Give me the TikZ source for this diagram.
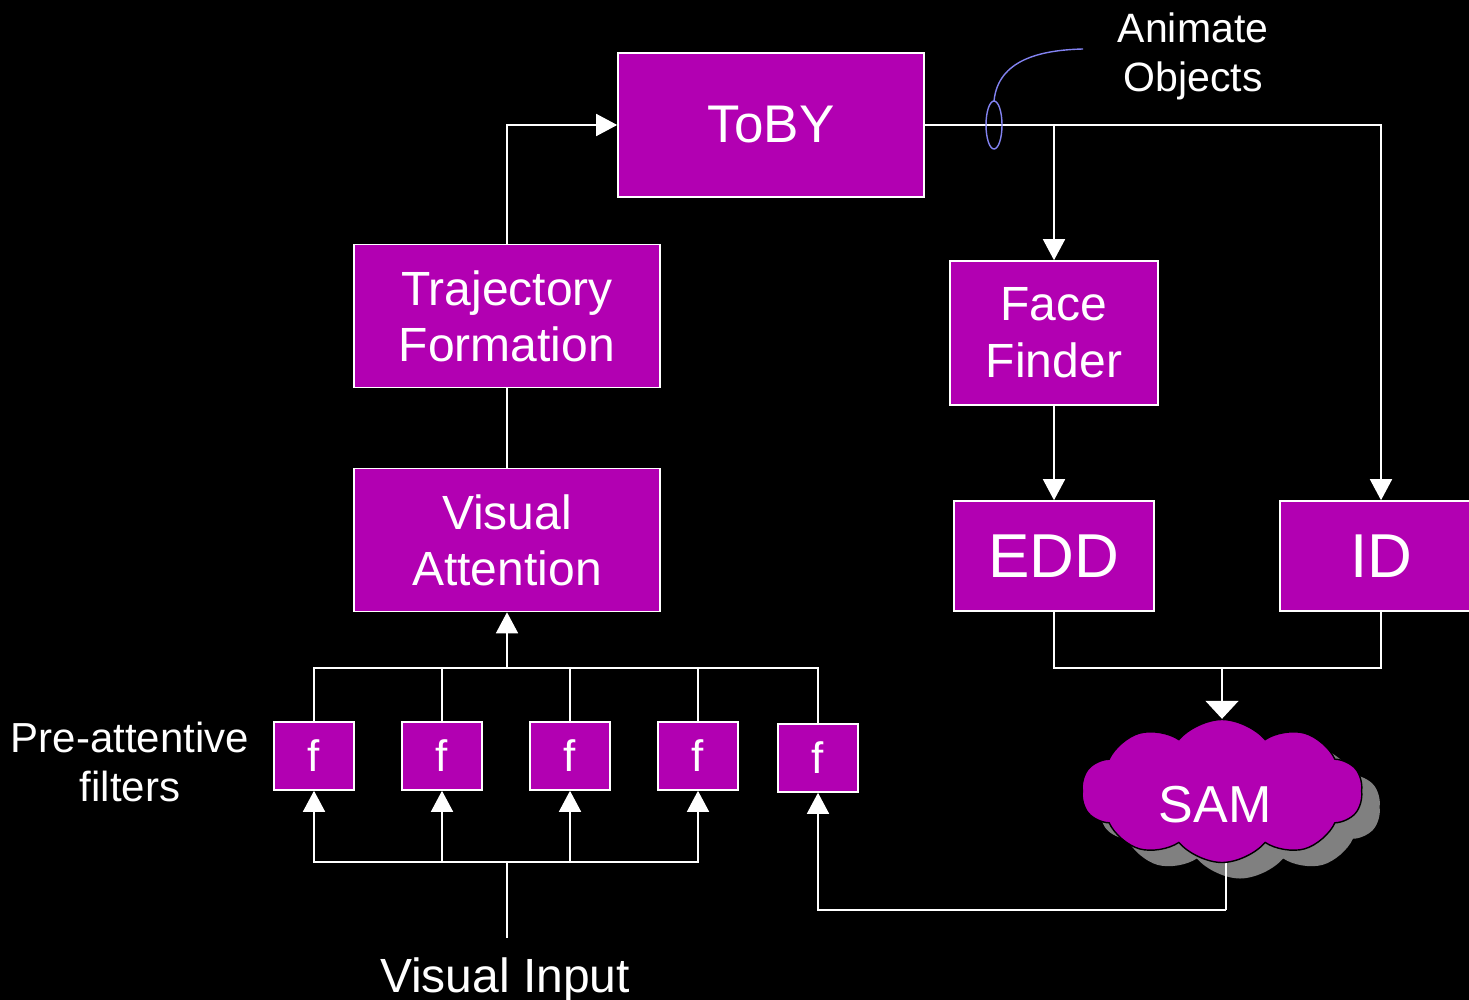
\documentclass[tikz,border=0pt]{standalone}
\usepackage{fontspec}
\setmainfont{Liberation Sans}
\usetikzlibrary{arrows.meta,shapes.symbols}

\definecolor{plum}{RGB}{178,0,178}
\definecolor{callout}{RGB}{130,130,240}
\definecolor{shade}{RGB}{128,128,128}

\begin{document}
\begin{tikzpicture}[
    x=1pt, y=-1pt,
    box/.style={draw=white, line width=1.6pt, fill=plum, text=white, inner sep=0pt, align=center},
    fbox/.style={box, minimum width=80pt, minimum height=68pt, font=\fontsize{44}{50}\selectfont},
    wire/.style={draw=white, line width=1.6pt},
    feed/.style={wire, -{Triangle[length=21pt, width=22pt]}},
    bigfeed/.style={wire, -{Triangle[length=18pt, width=33pt]}},
    cloudy/.style={cloud, cloud puffs=10, cloud puff arc=100, cloud ignores aspect,
      minimum width=281pt, minimum height=143pt, inner sep=0pt},
    words/.style={text=white, align=center, inner sep=0pt}
  ]
  \useasboundingbox (0,0) rectangle (1469,1000);
  \fill[black] (0,0) rectangle (1469,1000);

  % boxes
  \node[box, minimum width=306pt, minimum height=144pt, font=\fontsize{53}{60}\selectfont] (toby) at (771,125) {ToBY};
  \node[box, minimum width=306pt, minimum height=143pt, font=\fontsize{48}{56}\selectfont] (traj) at (507,316) {Trajectory\\Formation};
  \node[box, minimum width=306pt, minimum height=143pt, font=\fontsize{48}{56}\selectfont] (vis) at (507,540) {Visual\\Attention};
  \node[box, minimum width=208pt, minimum height=144pt, font=\fontsize{48}{57}\selectfont] (face) at (1054,333) {Face\\Finder};
  \node[box, minimum width=200pt, minimum height=110pt, font=\fontsize{62}{70}\selectfont] (edd) at (1054,556) {EDD};
  \node[box, minimum width=202pt, minimum height=110pt, font=\fontsize{62}{70}\selectfont] (id) at (1381,556) {ID};

  \foreach \k/\x in {1/314, 2/442, 3/570, 4/698}
    \node[fbox] (f\k) at (\x,756) {f};
  \node[fbox] (f5) at (818,758) {f};

  % labels
  \node[words, font=\fontsize{42}{49}\selectfont] (pre) at (130,762) {Pre-attentive\\filters};
  \node[words, font=\fontsize{48}{56}\selectfont, outer ysep=20pt] (input) at (505,980) {Visual Input};
  \node[words, font=\fontsize{41}{49}\selectfont] (anim) at (1193,56) {Animate\\Objects};

  % connectors
  \coordinate (highbus) at (507,668);
  \coordinate (lowbus) at (507,862);
  \coordinate (join) at (1222,668);
  \coordinate (back) at (1226,910);

  \draw[feed] (traj.north) |- (toby.west);
  \draw[wire] (traj.south) -- (vis.north);
  \draw[feed] (toby.east) -| (id.north);
  \draw[feed] (face.north |- toby.east) -- (face.north);
  \draw[feed] (face.south) -- (edd.north);
  \draw[wire] (edd.south) |- (join) -| (id.south);

  \foreach \k in {1,...,5}
    \draw[wire] (f\k.north) |- (highbus);
  \draw[feed] (highbus) -- (vis.south);
  \draw[wire] (lowbus |- input.north) -- (lowbus);
  \foreach \k in {1,...,4}
    \draw[feed] (lowbus) -| (f\k.south);
  \draw[feed] (back) -| (f5.south);

  % SAM cloud
  \node[cloudy, fill=shade] (samshadow) at (1240,807) {};
  \draw[wire] (back) -- (1226,820);
  \node[cloudy, fill=plum, draw=black, line width=1.4pt, text=white, font=\fontsize{52}{60}\selectfont] (sam) at (1222,791) {\smash{\raisebox{-31pt}{SAM}}\hspace*{14pt}};
  \draw[bigfeed] (join) -- (join |- sam.north);

  % callout
  \draw[callout, line width=1.4pt] (994,125) ellipse (8pt and 24pt);
  \draw[callout, line width=1.4pt] (994,101) .. controls (998,60) and (1040,50) .. (1083,49);
\end{tikzpicture}
\end{document}
